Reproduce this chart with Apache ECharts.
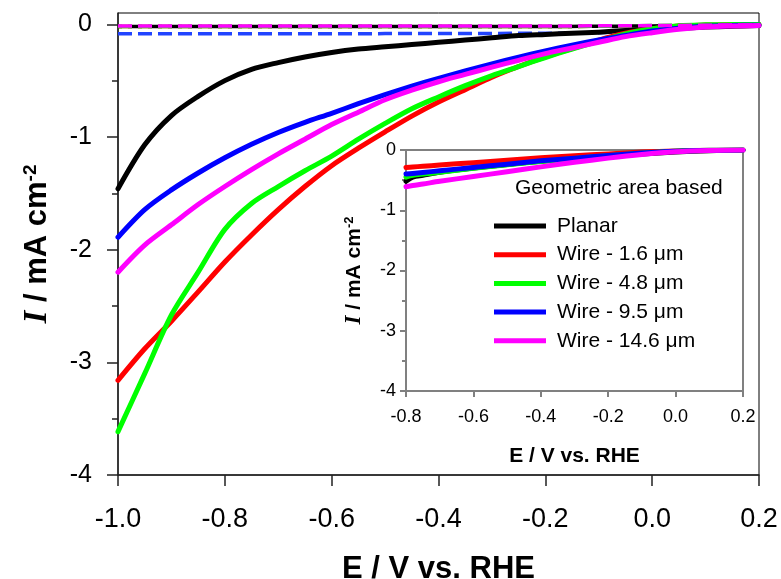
<!DOCTYPE html>
<html>
<head>
<meta charset="utf-8">
<script src="https://cdn.jsdelivr.net/npm/echarts@6/dist/echarts.min.js"></script>
<style>
  html, body { margin: 0; padding: 0; background: #fff; }
  #chart { width: 781px; height: 579px; }
</style>
</head>
<body>
<div id="chart"></div>
<script>
// Potential axis (V vs. RHE) for the main panel
const E = [-1.00, -0.95, -0.90, -0.85, -0.80, -0.75, -0.70, -0.65, -0.60, -0.55,
           -0.50, -0.45, -0.40, -0.35, -0.30, -0.25, -0.20, -0.15, -0.10, -0.05,
            0.00,  0.05,  0.10,  0.15,  0.20];

// Current density under illumination (mA cm^-2), main panel
const planar = [-1.46, -1.07, -0.81, -0.64, -0.50, -0.40, -0.34, -0.29, -0.25, -0.22,
                -0.20, -0.18, -0.16, -0.14, -0.12, -0.10, -0.09, -0.08, -0.07, -0.055,
                -0.045, -0.035, -0.025, -0.018, -0.012];
const wire16 = [-3.16, -2.88, -2.635, -2.375, -2.11, -1.87, -1.645, -1.44, -1.255, -1.10,
                -0.955, -0.815, -0.69, -0.58, -0.47, -0.375, -0.29, -0.215, -0.14, -0.08,
                -0.04, -0.015, -0.007, -0.004, -0.003];
const wire48 = [-3.615, -3.10, -2.58, -2.20, -1.82, -1.59, -1.44, -1.30, -1.17, -1.02,
                -0.88, -0.75, -0.645, -0.545, -0.455, -0.375, -0.295, -0.22, -0.15, -0.085,
                -0.04, -0.012, -0.005, -0.003, -0.002];
const wire95 = [-1.89, -1.645, -1.47, -1.32, -1.185, -1.065, -0.96, -0.87, -0.79, -0.705,
                -0.625, -0.55, -0.48, -0.415, -0.352, -0.292, -0.237, -0.186, -0.14, -0.10,
                -0.06, -0.035, -0.018, -0.011, -0.008];
const wire146 = [-2.20, -1.96, -1.78, -1.60, -1.44, -1.29, -1.15, -1.02, -0.89, -0.78,
                 -0.67, -0.585, -0.51, -0.445, -0.38, -0.32, -0.26, -0.21, -0.16, -0.11,
                 -0.075, -0.045, -0.025, -0.015, -0.01];

// Dark currents (dashed), sampled at a few potentials
const darkE = [-1.0, -0.5, -0.2, -0.1, 0.0, 0.1, 0.2];
const darkPlanar = [-0.02, -0.02, -0.02, -0.018, -0.015, -0.01, -0.008];
const dark16 = [-0.02, -0.02, -0.02, -0.018, -0.015, -0.01, -0.006];
const dark48 = [-0.02, -0.02, -0.02, -0.018, -0.012, -0.006, -0.004];
const dark95 = [-0.085, -0.083, -0.08, -0.075, -0.05, -0.025, -0.01];
const dark146 = [-0.015, -0.015, -0.015, -0.014, -0.012, -0.008, -0.006];

// Inset panel
const insetE = [-0.80, -0.78, -0.75, -0.70, -0.60, -0.50, -0.40, -0.30, -0.20, -0.10, 0.00, 0.10, 0.20];
const insetPlanar = [-0.52, -0.45, -0.42, -0.37, -0.30, -0.24, -0.185, -0.14, -0.10, -0.065, -0.035, -0.012, 0];
const inset16 = [-0.29, -0.282, -0.27, -0.25, -0.21, -0.17, -0.13, -0.095, -0.065, -0.035, -0.015, -0.005, 0];
const inset48 = [-0.45, -0.42, -0.40, -0.37, -0.305, -0.245, -0.19, -0.14, -0.095, -0.055, -0.022, -0.006, 0];
const inset95 = [-0.40, -0.39, -0.373, -0.345, -0.29, -0.235, -0.18, -0.135, -0.09, -0.05, -0.02, -0.005, 0];
const inset146 = [-0.61, -0.59, -0.565, -0.52, -0.44, -0.36, -0.28, -0.205, -0.135, -0.075, -0.03, -0.008, 0];

// Labels and ticks
const seriesNames = ['Planar', 'Wire - 1.6 μm', 'Wire - 4.8 μm', 'Wire - 9.5 μm', 'Wire - 14.6 μm'];
const seriesColors = ['#000000', '#ff0000', '#00ff00', '#0000ff', '#ff00ff'];
const mainYTicks = [-4, -3, -2, -1, 0];
const mainYMinor = [-3.5, -2.5, -1.5, -0.5];
const insetYMinor = [-3.5, -2.5, -1.5, -0.5];
const legendTitle = 'Geometric area based';
const xTitle = 'E / V vs. RHE';

const FONT = 'Liberation Sans';
const fmt1 = v => (Math.abs(v) < 1e-9 ? '0.0' : v.toFixed(1));
const pair = (xs, ys) => xs.map((x, i) => [x, ys[i]]);

const mainSets = [planar, wire16, wire48, wire95, wire146];
const darkSets = [darkPlanar, dark16, dark48, dark95, dark146];
const insetSets = [insetPlanar, inset16, inset48, inset95, inset146];

function lineSeries(name, data, color, xi, yi, width, extra) {
  return Object.assign({
    name: name, type: 'line', xAxisIndex: xi, yAxisIndex: yi,
    data: data, showSymbol: false, smooth: 0.3, silent: true,
    lineStyle: { color: color, width: width, cap: 'round', join: 'round' },
    itemStyle: { color: color },
    emphasis: { disabled: true }
  }, extra || {});
}

const series = [];
// dark currents underneath (magenta drawn last, on top)
[0, 1, 2, 3].forEach(k => {
  series.push(lineSeries(seriesNames[k] + ' dark', pair(darkE, darkSets[k]), seriesColors[k], 0, 0, 3.5, {
    smooth: false,
    lineStyle: { color: k === 3 ? '#2244ff' : seriesColors[k], width: 3.5, type: [14, 6], dashOffset: k === 0 ? 10 : 0 }
  }));
});
mainSets.forEach((d, k) => series.push(lineSeries(seriesNames[k], pair(E, d), seriesColors[k], 0, 0, 5)));
series.push(lineSeries(seriesNames[4] + ' dark', pair(darkE, dark146), seriesColors[4], 0, 0, 3.5, {
  smooth: false,
  lineStyle: { color: seriesColors[4], width: 3.5, type: [14, 6] }
}));
insetSets.forEach((d, k) => series.push(lineSeries(seriesNames[k], pair(insetE, d), seriesColors[k], 1, 2, 5)));

const yTitle = (fs, sup) => ({
  text: '{i|I}{t| / mA cm}{s|-2}',
  style: {
    fontSize: fs, fontWeight: 'bold', color: '#000', fontFamily: FONT,
    rich: {
      i: { fontFamily: 'Liberation Serif', fontStyle: 'italic', fontWeight: 'bold', fontSize: fs + 2, color: '#000' },
      t: { fontFamily: FONT, fontWeight: 'bold', fontSize: fs, color: '#000' },
      s: { fontFamily: FONT, fontWeight: 'bold', fontSize: sup, color: '#000', verticalAlign: 'top' }
    }
  }
});
const mainYTitle = yTitle(31, 19);
const insetYTitle = yTitle(21, 13);

const axisDark = { color: '#222', width: 1.5 };
const axisGray = { color: '#808080', width: 2 };

const option = {
  animation: false,
  backgroundColor: '#ffffff',
  title: {
    text: legendTitle, left: 515, top: 178, padding: 0,
    textStyle: { fontFamily: FONT, fontSize: 21, fontWeight: 'normal', color: '#000' }
  },
  legend: {
    data: seriesNames, orient: 'vertical', left: 494, top: 214, padding: 0,
    icon: 'rect', itemWidth: 52, itemHeight: 5, itemGap: 4.7,
    selectedMode: false,
    textStyle: { fontFamily: FONT, fontSize: 21, lineHeight: 24, color: '#000', padding: [0, 0, 0, 6] }
  },
  grid: [
    { left: 118, top: 13, width: 641, height: 462, outerBoundsMode: 'none', containLabel: false,
      show: true, borderColor: '#000', borderWidth: 1, backgroundColor: 'transparent' },
    { left: 406, top: 150, width: 337, height: 241, outerBoundsMode: 'none', containLabel: false,
      show: true, borderColor: '#808080', borderWidth: 2, backgroundColor: '#ffffff' }
  ],
  xAxis: [
    {
      gridIndex: 0, type: 'value', min: -1.0, max: 0.2, interval: 0.2,
      axisLine: { show: true, onZero: false, lineStyle: axisDark },
      axisTick: { show: true, inside: false, length: 11, lineStyle: axisDark },
      axisLabel: { fontFamily: FONT, fontSize: 27, color: '#000', margin: 31, formatter: fmt1 },
      splitLine: { show: false },
      name: xTitle, nameLocation: 'middle', nameGap: 79,
      nameTextStyle: { fontFamily: FONT, fontSize: 31, fontWeight: 'bold', color: '#000' }
    },
    {
      gridIndex: 1, type: 'value', min: -0.8, max: 0.2, interval: 0.2,
      axisLine: { show: true, onZero: false, lineStyle: axisGray },
      axisTick: { show: true, inside: false, length: 6, lineStyle: axisGray },
      axisLabel: { fontFamily: FONT, fontSize: 18, color: '#000', margin: 17, formatter: fmt1 },
      splitLine: { show: false },
      name: xTitle, nameLocation: 'middle', nameGap: 55,
      nameTextStyle: { fontFamily: FONT, fontSize: 21, fontWeight: 'bold', color: '#000' }
    }
  ],
  yAxis: [
    {
      gridIndex: 0, type: 'value', min: -4, max: 0.1, position: 'left',
      axisLine: { show: true, onZero: false, lineStyle: axisDark },
      axisTick: { show: true, inside: false, length: 11, lineStyle: axisDark, customValues: mainYTicks },
      axisLabel: { fontFamily: FONT, fontSize: 25, color: '#000', margin: 26, customValues: mainYTicks },
      splitLine: { show: false },
      name: mainYTitle.text, nameLocation: 'middle', nameGap: 64,
      nameTextStyle: mainYTitle.style
    },
    {
      gridIndex: 0, type: 'value', min: -4, max: 0.1, position: 'left',
      axisLine: { show: false, onZero: false },
      axisTick: { show: true, inside: false, length: 6, lineStyle: axisDark, customValues: mainYMinor },
      axisLabel: { show: false },
      splitLine: { show: false }
    },
    {
      gridIndex: 1, type: 'value', min: -4, max: 0, interval: 1, position: 'left',
      axisLine: { show: true, onZero: false, lineStyle: axisGray },
      axisTick: { show: true, inside: false, length: 6, lineStyle: axisGray },
      axisLabel: { fontFamily: FONT, fontSize: 18, color: '#000', margin: 10 },
      splitLine: { show: false },
      name: insetYTitle.text, nameLocation: 'middle', nameGap: 40,
      nameTextStyle: insetYTitle.style
    },
    {
      gridIndex: 1, type: 'value', min: -4, max: 0, position: 'left',
      axisLine: { show: false, onZero: false },
      axisTick: { show: true, inside: false, length: 4, lineStyle: axisGray, customValues: insetYMinor },
      axisLabel: { show: false },
      splitLine: { show: false }
    }
  ],
  series: series
};

const chart = echarts.init(document.getElementById('chart'), null, { renderer: 'canvas' });
chart.setOption(option);
</script>
</body>
</html>
